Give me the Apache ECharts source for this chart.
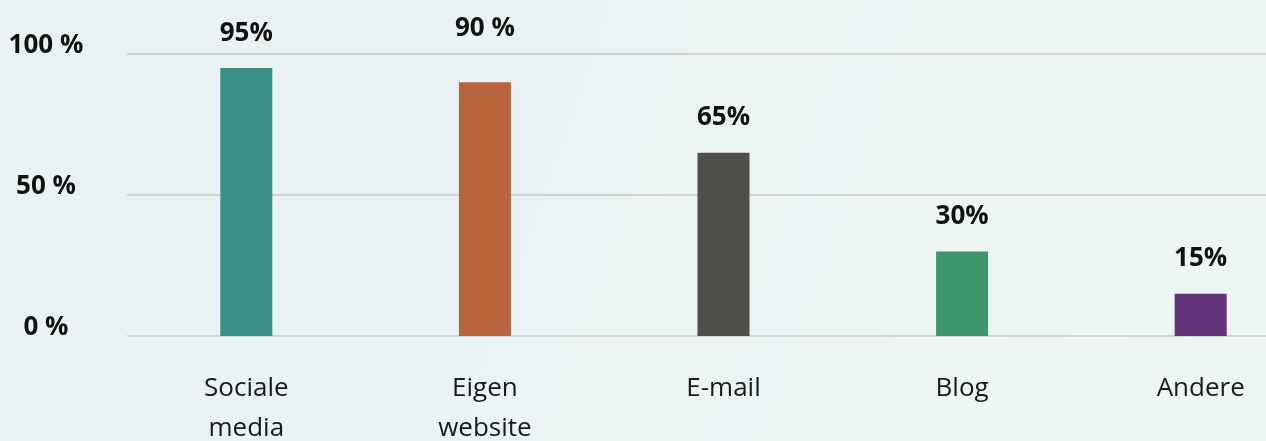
<!DOCTYPE html>
<html>
<head>
<meta charset="utf-8">
<script src="https://cdn.jsdelivr.net/npm/echarts@6/dist/echarts.min.js"></script>
<style>
html,body{margin:0;padding:0;}
#c{width:1266px;height:441px;}
</style>
</head>
<body>
<div id="c"></div>
<script>
const categories = ['Sociale\nmedia', 'Eigen\nwebsite', 'E-mail', 'Blog', 'Andere'];
const values = [95, 90, 65, 30, 15];
const valueLabels = ['95%', '90 %', '65%', '30%', '15%'];
const barColors = ['#3A9188', '#B9643D', '#4F4F4A', '#3E976C', '#633479'];
const yTickLabels = {0: '0 %', 50: '50 %', 100: '100 %'};

const chart = echarts.init(document.getElementById('c'));
chart.setOption({
  backgroundColor: {
    type: 'linear', x: 0, y: 0, x2: 1, y2: 1,
    colorStops: [{offset: 0, color: '#E8F2F2'}, {offset: 1, color: '#EEF5F5'}]
  },
  animation: false,
  grid: {left: 127, right: -54, top: 54, bottom: 105, containLabel: false, outerBoundsMode: 'none'},
  xAxis: {
    type: 'category',
    data: categories,
    axisLine: {show: false},
    axisTick: {show: false},
    axisLabel: {
      color: '#1a1a1a', fontFamily: 'Open Sans', fontSize: 26,
      lineHeight: 40, margin: 33, interval: 0
    }
  },
  yAxis: {
    type: 'value', min: 0, max: 100, interval: 50,
    axisLine: {show: false}, axisTick: {show: false},
    splitLine: {lineStyle: {color: '#D3D3D3', width: 2}},
    axisLabel: {
      formatter: v => yTickLabels[v] || '',
      color: '#111', fontFamily: 'Open Sans', fontWeight: 'bold', fontSize: 26,
      align: 'center', margin: 81, verticalAlign: 'bottom', lineHeight: 17
    }
  },
  series: [{
    type: 'bar',
    barWidth: 52,
    data: values.map((v, i) => ({
      value: v,
      itemStyle: {color: barColors[i]},
      label: i === 1 ? {distance: 41} : undefined
    })),
    label: {
      show: true, position: 'top', distance: 22,
      formatter: p => valueLabels[p.dataIndex],
      color: '#111', fontFamily: 'Open Sans', fontWeight: 'bold', fontSize: 26
    }
  }]
});
</script>
</body>
</html>
